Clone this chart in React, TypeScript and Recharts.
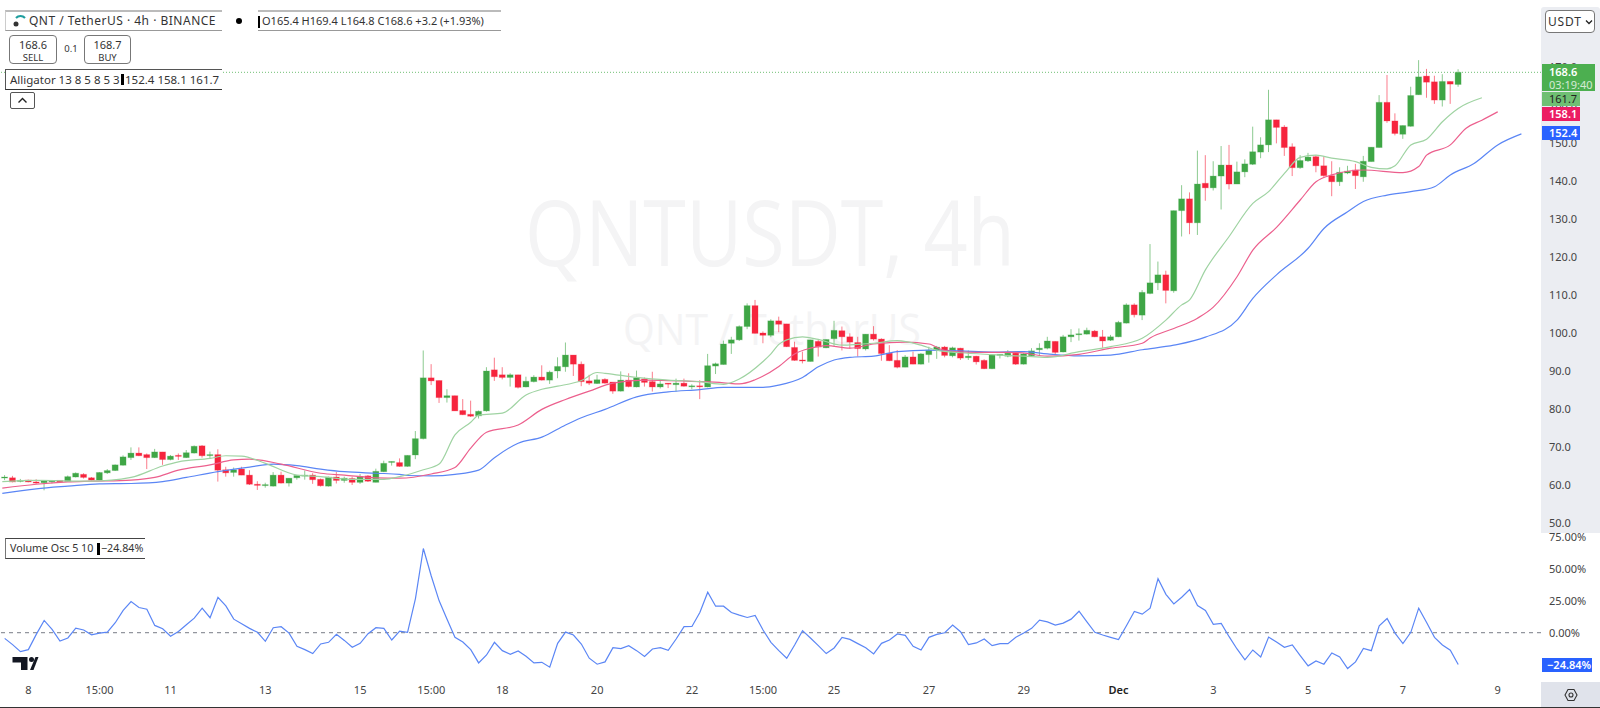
import { Bar, ComposedChart, Line, ReferenceLine, XAxis, YAxis } from 'recharts';

const FONT = '"Noto Sans", sans-serif';
const UP = '#3fa646';
const DOWN = '#f6243d';
const BODY_WIDTH = 6;

const opens = [
  62.0, 61.9, 61.0, 61.3, 60.8, 60.6, 61.0, 61.2, 60.9, 62.1,
  62.8, 61.9, 61.3, 63.2, 63.8, 65.2, 67.2, 68.4, 68.0, 67.2,
  68.7, 66.7, 67.8, 67.2, 68.4, 70.3, 67.9, 68.0, 64.0, 63.3,
  64.2, 62.6, 60.2, 59.9, 59.7, 62.6, 60.5, 61.9, 62.5, 62.6,
  61.5, 59.7, 62.1, 61.2, 61.7, 60.7, 62.4, 60.7, 63.5, 66.0,
  65.9, 64.9, 67.9, 72.2, 88.2, 87.5, 83.0, 83.5, 79.6, 78.6,
  78.2, 79.5, 90.3, 89.0, 88.3, 89.0, 85.8, 87.2, 88.4, 87.6,
  90.0, 91.1, 94.2, 91.8, 87.4, 86.7, 87.8, 87.1, 84.7, 87.6,
  85.8, 87.9, 87.2, 85.8, 86.8, 86.4, 86.8, 85.9, 86.1, 85.8,
  91.3, 91.7, 97.3, 98.2, 101.7, 107.2, 100.0, 99.4, 103.2, 102.4,
  96.2, 92.9, 92.5, 97.8, 96.1, 98.5, 100.6, 99.0, 97.5, 95.8,
  99.7, 98.4, 94.7, 92.8, 91.0, 93.7, 91.8, 94.3, 95.5, 96.3,
  94.0, 96.0, 93.5, 93.9, 92.8, 90.6, 94.2, 93.9, 94.7, 91.8,
  94.0, 95.6, 96.0, 97.8, 95.0, 99.0, 99.6, 99.7, 100.5, 99.0,
  98.1, 99.0, 102.6, 107.4, 104.7, 110.4, 113.2, 115.3, 111.1, 132.2,
  135.3, 129.0, 139.4, 138.2, 141.3, 144.2, 139.2, 142.4, 144.4, 147.6,
  149.5, 156.1, 154.2, 149.0, 143.5, 145.3, 146.4, 144.0, 141.4, 139.8,
  142.1, 142.9, 141.1, 145.1, 148.8, 160.7, 155.8, 152.3, 154.4, 162.7,
  167.6, 166.1, 161.3, 166.2, 165.4,
];

const highs = [
  62.6, 62.4, 61.6, 61.4, 61.5, 61.2, 61.3, 61.2, 62.5, 63.3,
  63.1, 62.1, 63.4, 64.2, 65.4, 67.8, 69.9, 69.9, 68.3, 69.5,
  68.7, 67.9, 68.3, 69.2, 70.4, 70.5, 68.8, 69.4, 64.8, 64.6,
  64.8, 63.9, 61.0, 60.6, 63.4, 63.5, 61.8, 62.6, 63.8, 63.1,
  61.7, 62.2, 63.4, 62.2, 62.2, 62.9, 62.6, 64.3, 66.4, 66.2,
  67.0, 67.8, 74.2, 95.4, 91.8, 87.5, 85.2, 83.5, 82.6, 82.2,
  79.6, 91.0, 93.5, 91.0, 89.4, 89.0, 88.5, 88.9, 91.5, 90.1,
  93.6, 97.5, 94.2, 92.5, 89.0, 89.0, 88.1, 87.1, 89.9, 89.4,
  90.1, 88.3, 89.8, 87.6, 86.8, 88.0, 88.0, 86.5, 87.6, 94.5,
  92.2, 98.0, 99.0, 102.0, 107.8, 108.7, 100.4, 103.6, 104.3, 102.4,
  97.7, 95.1, 98.2, 98.2, 98.3, 103.2, 101.7, 99.9, 99.0, 99.7,
  101.8, 98.6, 96.8, 95.5, 94.2, 95.1, 94.7, 96.4, 96.6, 96.6,
  96.4, 96.1, 95.4, 94.0, 93.1, 94.3, 94.4, 95.5, 94.8, 94.7,
  96.0, 97.3, 99.0, 97.8, 99.5, 101.0, 101.2, 101.4, 100.8, 100.8,
  99.5, 103.2, 107.8, 107.8, 111.3, 123.4, 118.8, 116.4, 132.2, 138.9,
  137.0, 148.0, 146.8, 145.2, 149.2, 149.5, 145.1, 145.7, 154.3, 151.5,
  164.0, 156.1, 154.7, 149.9, 146.8, 147.4, 146.8, 146.4, 145.2, 143.6,
  144.0, 144.5, 146.6, 148.9, 162.6, 167.9, 157.8, 154.6, 164.8, 171.8,
  169.5, 167.7, 168.1, 166.2, 169.4,
];

const lows = [
  61.3, 60.7, 60.7, 60.7, 60.3, 58.6, 60.4, 60.7, 60.8, 62.0,
  61.7, 61.2, 61.2, 62.9, 63.7, 65.1, 66.6, 67.6, 64.2, 67.1,
  65.3, 66.5, 66.6, 67.1, 68.3, 67.2, 67.0, 60.9, 62.2, 62.2,
  62.6, 60.0, 58.7, 59.3, 59.6, 60.4, 59.6, 61.4, 61.4, 60.3,
  59.6, 59.6, 60.4, 60.6, 60.0, 60.3, 60.8, 60.7, 63.4, 65.1,
  64.8, 64.8, 66.8, 72.0, 86.3, 81.6, 81.7, 79.5, 78.4, 77.9,
  77.5, 79.3, 87.4, 87.8, 85.9, 85.4, 85.7, 87.0, 87.5, 86.6,
  88.1, 89.8, 88.7, 86.0, 86.3, 86.6, 86.7, 84.0, 84.6, 85.7,
  85.7, 85.9, 84.6, 85.4, 85.5, 84.6, 85.9, 85.2, 82.6, 85.7,
  89.2, 91.7, 94.5, 97.9, 101.0, 99.9, 97.3, 98.9, 100.2, 96.3,
  92.7, 92.0, 92.5, 93.8, 96.0, 96.6, 95.4, 95.8, 93.8, 95.4,
  98.0, 92.7, 92.6, 90.7, 91.0, 91.8, 91.7, 92.2, 93.2, 93.6,
  93.6, 92.9, 92.9, 91.7, 90.5, 90.5, 93.3, 93.6, 91.6, 91.7,
  93.8, 94.2, 95.7, 94.2, 94.9, 97.6, 98.0, 99.6, 98.9, 96.1,
  97.9, 98.9, 102.5, 104.1, 103.4, 110.2, 111.3, 107.8, 110.6, 125.4,
  126.0, 125.8, 134.8, 137.5, 132.5, 137.8, 139.2, 141.0, 144.2, 146.0,
  147.6, 149.9, 146.6, 141.3, 143.2, 145.0, 142.3, 141.1, 136.0, 138.7,
  141.8, 137.9, 139.8, 145.1, 148.8, 155.3, 152.0, 151.1, 154.3, 162.7,
  161.9, 160.3, 159.6, 160.3, 164.8,
];

const closes = [
  62.1, 60.8, 61.2, 60.8, 60.5, 61.2, 61.1, 60.8, 62.2, 63.1,
  62.0, 61.3, 63.3, 63.8, 65.3, 67.4, 68.4, 67.7, 67.2, 68.7,
  66.7, 67.6, 67.6, 68.5, 70.2, 67.7, 68.0, 63.9, 63.2, 64.0,
  62.6, 60.2, 59.9, 60.1, 62.6, 60.5, 61.8, 62.5, 62.6, 61.4,
  59.8, 62.1, 61.2, 61.8, 60.7, 62.2, 61.0, 63.6, 65.7, 66.2,
  64.9, 67.8, 72.2, 88.2, 87.4, 83.0, 83.5, 79.5, 78.5, 78.1,
  79.4, 90.0, 88.5, 88.3, 89.0, 85.7, 87.3, 88.4, 87.6, 89.7,
  91.2, 94.2, 91.8, 87.2, 86.8, 87.7, 86.8, 84.7, 87.6, 85.9,
  88.2, 87.0, 85.8, 86.6, 86.6, 86.8, 86.0, 86.1, 85.9, 91.4,
  91.9, 97.1, 98.2, 101.7, 107.2, 99.9, 99.4, 103.2, 102.3, 96.4,
  92.8, 92.7, 98.2, 96.3, 98.3, 100.7, 99.0, 97.6, 95.9, 99.7,
  98.4, 94.6, 92.7, 91.0, 93.7, 91.8, 94.5, 95.5, 96.3, 94.1,
  96.1, 93.4, 93.9, 92.4, 90.6, 94.2, 94.4, 94.7, 91.8, 94.5,
  95.3, 96.0, 97.9, 94.9, 99.0, 99.5, 99.8, 100.7, 99.0, 97.9,
  99.0, 102.8, 107.4, 104.8, 110.7, 113.2, 115.3, 111.2, 132.2, 135.3,
  129.0, 139.2, 138.2, 141.3, 144.2, 139.2, 142.4, 144.5, 147.7, 149.5,
  156.1, 154.1, 148.8, 143.5, 145.4, 146.3, 144.0, 141.4, 139.8, 142.3,
  142.6, 141.4, 145.2, 148.9, 160.7, 155.8, 152.5, 154.6, 162.5, 167.4,
  166.0, 161.3, 166.2, 165.5, 168.6,
];

const jawBars = [-0.3, 4, 8, 12, 16, 20, 23, 27, 31, 34, 37, 40, 43, 47, 50, 51, 54, 57, 60, 62, 65, 68, 71, 73, 76, 80, 84, 88, 91, 96, 98, 101, 103, 105, 107, 110, 113, 117, 121, 125, 129, 132, 136, 140, 144, 148, 152, 156, 158, 161, 165, 167, 170, 172, 175, 178, 181, 183, 186, 189, 192];
const jawValues = [57.8, 59.0, 59.7, 60.3, 60.4, 60.9, 62.0, 63.5, 64.7, 65.5, 65.1, 64.2, 63.5, 63.1, 62.8, 62.5, 62.4, 62.8, 63.9, 67.2, 71.0, 72.6, 75.8, 77.7, 79.9, 83.2, 84.5, 85.1, 85.7, 85.7, 86.3, 88.3, 91.1, 92.9, 93.6, 93.9, 95.1, 95.5, 95.3, 95.0, 95.1, 94.5, 94.0, 94.2, 95.6, 96.8, 98.9, 103.4, 109.1, 115.3, 122.3, 127.5, 131.9, 134.6, 136.3, 137.2, 138.5, 141.6, 144.6, 149.5, 152.4];

const teethBars = [-0.3, 4, 8, 11, 16, 19, 22, 26, 29, 31, 35, 40, 43, 47, 50, 54, 57, 59, 61, 65, 68, 71, 74, 77, 81, 88, 91, 93, 95, 98, 100, 102, 104, 107, 110, 114, 117, 119, 123, 128, 132, 136, 140, 144, 145, 148, 151, 153, 156, 158, 161, 164, 166, 168, 172, 177, 179, 180, 183, 185, 187, 189];
const teethValues = [59.2, 60.2, 60.8, 61.0, 61.3, 62.0, 63.9, 65.3, 66.6, 66.8, 65.5, 63.1, 62.6, 61.9, 61.8, 62.9, 64.6, 69.7, 73.9, 75.8, 79.9, 82.5, 84.7, 86.8, 87.6, 87.2, 86.9, 86.6, 87.7, 91.2, 94.5, 96.0, 96.7, 96.0, 97.1, 97.6, 97.1, 95.4, 94.9, 94.9, 93.9, 94.4, 96.0, 97.3, 98.7, 101.2, 103.9, 106.8, 114.8, 121.8, 127.8, 135.0, 139.8, 141.6, 142.9, 142.2, 143.8, 146.8, 149.5, 153.9, 156.0, 158.2];

const lipsBars = [-0.3, 4, 11, 16, 20, 22, 26, 28, 30, 33, 37, 40, 44, 48, 50, 53, 55, 57, 59, 60, 63, 66, 68, 70, 73, 75, 76, 80, 84, 88, 91, 93, 96, 97, 98, 99, 101, 103, 106, 108, 110, 113, 116, 118, 121, 125, 129, 132, 136, 140, 144, 147, 149, 150, 152, 155, 158, 160, 162, 164, 166, 168, 171, 173, 175, 176, 178, 180, 182, 184, 187];
const lipsValues = [60.9, 61.2, 61.0, 62.0, 65.0, 66.1, 67.0, 67.7, 67.6, 65.7, 62.6, 62.2, 61.5, 61.5, 62.2, 64.0, 65.5, 73.2, 76.5, 78.4, 78.9, 83.7, 85.2, 86.0, 87.5, 89.6, 89.4, 88.3, 87.6, 87.2, 86.5, 87.9, 92.5, 94.5, 97.0, 98.2, 99.0, 98.3, 96.8, 97.0, 97.3, 98.0, 96.8, 95.5, 94.8, 94.3, 93.9, 93.6, 95.1, 96.4, 98.6, 103.4, 107.4, 108.7, 116.6, 125.4, 134.1, 137.2, 142.0, 146.2, 146.8, 146.0, 145.1, 143.6, 143.2, 144.0, 149.5, 151.0, 155.6, 159.1, 161.9];

const oscValues = [
  -4.4, -9.3, -14.8, -13.2, -1.3, 9.6, 2.6, -6.5, -4.1, 3.6,
  2.1, -1.6, -0.3, 0.5, 7.8, 17.4, 24.3, 19.7, 18.4, 5.7,
  3.1, -2.8, 1.0, 6.2, 11.4, 19.2, 11.7, 27.7, 21.0, 10.6,
  7.0, 3.4, 0.3, -6.7, 3.9, 4.7, -0.3, -10.6, -13.2, -16.3,
  -8.8, -7.5, -1.3, -6.0, -11.4, -8.3, -0.8, 3.9, 3.4, -5.7,
  1.3, 0.3, 26.7, 65.8, 44.3, 24.9, 10.6, -3.6, -7.3, -13.2,
  -23.6, -17.4, -7.5, -14.0, -16.8, -14.2, -18.4, -23.6, -23.1, -26.9,
  -8.3, 0.5, -1.8, -8.8, -19.9, -24.6, -22.8, -11.7, -12.4, -10.1,
  -14.0, -18.6, -12.7, -11.7, -13.7, -4.9, 4.7, 4.9, 15.8, 31.6,
  20.7, 20.7, 15.8, 13.7, 11.9, 13.5, 2.1, -7.5, -14.0, -19.9,
  -9.6, 1.6, -4.1, -10.1, -16.3, -11.9, -3.6, -5.2, -8.5, -11.7,
  -16.6, -8.3, -5.7, -1.0, -2.1, -10.6, -13.5, -3.6, -1.3, 0,
  6.0, 0.8, -9.3, -8.0, -4.9, -10.1, -8.5, -8.5, -3.6, -0.3,
  3.4, 9.8, 8.5, 6.0, 7.5, 10.6, 16.8, 8.5, 0.3, -1.8,
  -3.6, -5.4, 5.4, 16.6, 14.5, 19.2, 42.2, 30.0, 22.5, 27.7,
  33.7, 21.2, 17.4, 6.5, 7.3, -3.1, -12.7, -21.2, -13.5, -18.9,
  -3.4, -7.3, -11.4, -9.6, -17.9, -25.9, -22.0, -24.6, -15.8, -18.9,
  -28.0, -22.8, -12.2, -14.0, 5.4, 11.1, -0.3, -8.5, 0.3, 19.2,
  8.0, -3.6, -9.6, -13.7, -24.84,
];

const priceTicks = [50, 60, 70, 80, 90, 100, 110, 120, 130, 140, 150, 160, 170];
const oscTicks = [0, 25, 50, 75];
const timeBars = [3, 12, 21, 33, 45, 54, 63, 75, 87, 96, 105, 117, 129, 141, 153, 165, 177, 189];
const timeLabels = ['8', '15:00', '11', '13', '15', '15:00', '18', '20', '22', '15:00', '25', '27', '29', 'Dec', '3', '5', '7', '9'];

const BAR_DOMAIN = [-0.591, 194.48];

const candles = opens.map((open, i) => ({
  bar: i,
  open,
  high: highs[i],
  low: lows[i],
  close: closes[i],
  range: [lows[i], highs[i]],
}));
const toPoints = (bars: number[], values: number[]) => bars.map((bar, i) => ({ bar, value: values[i] }));
const oscPoints = oscValues.map((value, i) => ({ bar: i, value }));

// body width is fixed here, the bar's own width shrinks with the gaps on the number axis
const Candle = ({ x, y, width, height, payload }: any) => {
  const { open, close, high, low } = payload;
  const color = close >= open ? UP : DOWN;
  const perUnit = Math.abs(height) / Math.max(high - low, 0.01);
  const top = y + (high - Math.max(open, close)) * perUnit;
  const bodyHeight = Math.max(Math.abs(open - close) * perUnit, 1);
  const mid = x + width / 2;
  return (
    <g>
      <line x1={mid} x2={mid} y1={y} y2={y + Math.abs(height)} stroke={color} strokeOpacity={0.6} />
      <rect x={mid - BODY_WIDTH / 2} y={top} width={BODY_WIDTH} height={bodyHeight} fill={color} stroke={color} strokeOpacity={0.25} />
    </g>
  );
};

const TimeTick = ({ x, y, payload }: any) => {
  const label = timeLabels[timeBars.indexOf(payload.value)];
  return (
    <text x={x} y={y} dy={4} textAnchor="middle" fontFamily={FONT} fontSize={11} fontWeight={label === 'Dec' ? 600 : 400} fill={label === 'Dec' ? '#222' : '#444'}>
      {label}
    </text>
  );
};

const box = (left: number, top: number, width: number, height: number, extra: any = {}) => ({
  position: 'absolute' as const,
  left,
  top,
  width,
  height,
  boxSizing: 'border-box' as const,
  fontFamily: FONT,
  fontSize: 11,
  color: '#333',
  lineHeight: `${height}px`,
  whiteSpace: 'nowrap' as const,
  ...extra,
});

const App = () => {
  return (
    <div style={{ position: 'absolute', left: 0, top: 0, width: 1600, height: 708, overflow: 'hidden', background: '#fff' }}>
      {/* watermark */}
      <svg width={1600} height={708} style={{ position: 'absolute', left: 0, top: 0 }}>
        <text x={525} y={266} fontFamily={'"Open Sans", sans-serif'} fontSize={92} fill="#f4f4f5" textLength={490} lengthAdjust="spacingAndGlyphs">QNTUSDT, 4h</text>
        <text x={623} y={345} fontFamily={'"Open Sans", sans-serif'} fontSize={44} fill="#f4f4f5" textLength={298} lengthAdjust="spacingAndGlyphs">QNT / TetherUS</text>
      </svg>

      {/* oscillator pane */}
      <div style={{ position: 'absolute', left: 0, top: 533 }}>
        <ComposedChart width={1600} height={174} data={oscPoints} margin={{ top: 0, right: 0, bottom: 0, left: 0 }}>
          <XAxis
            dataKey="bar"
            type="number"
            domain={BAR_DOMAIN}
            allowDataOverflow
            ticks={timeBars}
            interval={0}
            height={25}
            tickLine={false}
            axisLine={false}
            tickSize={0}
            tickMargin={8}
            tick={<TimeTick />}
          />
          <YAxis
            orientation="right"
            width={59}
            type="number"
            domain={[-38.5, 77.9]}
            allowDataOverflow
            ticks={oscTicks}
            interval={0}
            tickLine={false}
            axisLine={false}
            tickSize={0}
            tickMargin={8}
            tick={{ fontFamily: FONT, fontSize: 11, fill: '#444' }}
            tickFormatter={(v: number) => `${v.toFixed(2)}%`}
          />
          <ReferenceLine y={0} stroke="#787b86" strokeDasharray="4 4" />
          <Line dataKey="value" type="linear" stroke="#5b86f5" strokeWidth={1.2} dot={false} activeDot={false} isAnimationActive={false} />
        </ComposedChart>
      </div>

      {/* price scale background, sits over the top of the 75% label */}
      <div style={{ position: 'absolute', left: 1541, top: 7, width: 59, height: 526, background: '#ebedf2', borderTopLeftRadius: 3, borderTopRightRadius: 3 }} />
      <div style={{ position: 'absolute', left: 1541, top: 682, width: 59, height: 25, background: '#e0e3eb' }} />
      <div style={{ position: 'absolute', left: 0, top: 707, width: 1600, height: 1, background: '#333' }} />

      {/* price pane */}
      <div style={{ position: 'absolute', left: 0, top: 0 }}>
        <ComposedChart width={1600} height={533} data={candles} margin={{ top: 0, right: 0, bottom: 0, left: 0 }}>
          <XAxis dataKey="bar" type="number" domain={BAR_DOMAIN} allowDataOverflow hide />
          <YAxis
            orientation="right"
            width={59}
            type="number"
            domain={[47.37, 187.63]}
            allowDataOverflow
            ticks={priceTicks}
            interval={0}
            tickLine={false}
            axisLine={false}
            tickSize={0}
            tickMargin={8}
            tick={{ fontFamily: FONT, fontSize: 11, fill: '#444' }}
            tickFormatter={(v: number) => v.toFixed(1)}
          />
          <ReferenceLine y={168.6} stroke="#4caf50" strokeDasharray="1 2" strokeOpacity={0.8} />
          <Bar dataKey="range" barSize={6} shape={<Candle />} isAnimationActive={false} />
          <Line data={toPoints(jawBars, jawValues)} dataKey="value" type="monotone" stroke="#5b86f5" strokeWidth={1.2} dot={false} activeDot={false} isAnimationActive={false} />
          <Line data={toPoints(teethBars, teethValues)} dataKey="value" type="monotone" stroke="#ec5f8d" strokeWidth={1.2} dot={false} activeDot={false} isAnimationActive={false} />
          <Line data={toPoints(lipsBars, lipsValues)} dataKey="value" type="monotone" stroke="#9fd3a2" strokeWidth={1.2} dot={false} activeDot={false} isAnimationActive={false} />
        </ComposedChart>
      </div>

      {/* legend */}
      <div style={box(5, 10, 217, 21, { borderTop: '2px solid #bbb', borderBottom: '1px solid #999', borderLeft: '1px solid #ccc', paddingLeft: 23, fontSize: 12, letterSpacing: 0.5, lineHeight: '18px' })}>QNT / TetherUS · 4h · BINANCE</div>
      <svg width={18} height={16} style={{ position: 'absolute', left: 10, top: 13 }}>
        <path d="M6 5 A6 6 0 0 1 15 5" fill="none" stroke="#1f9e9e" strokeWidth={2} />
        <circle cx={6} cy={11} r={2.5} fill="#333" />
      </svg>
      <div style={{ position: 'absolute', left: 236, top: 18, width: 6, height: 6, borderRadius: 3, background: '#000' }} />
      <div style={box(258, 10, 243, 21, { borderTop: '2px solid #bbb', borderBottom: '1px solid #999', paddingLeft: 4, lineHeight: '18px' })}>O165.4 H169.4 L164.8 C168.6 +3.2 (+1.93%)</div>
      <div style={{ position: 'absolute', left: 258, top: 16, width: 2, height: 12, background: '#000' }} />

      <div style={box(9, 35, 48, 29, { border: '1px solid #777', borderRadius: 4, background: '#fff', textAlign: 'center', lineHeight: '13px', paddingTop: 2 })}>
        <div>168.6</div>
        <div style={{ fontSize: 9.5 }}>SELL</div>
      </div>
      <div style={box(63, 42, 16, 14, { fontSize: 9.5, textAlign: 'center' })}>0.1</div>
      <div style={box(84, 35, 47, 29, { border: '1px solid #777', borderRadius: 4, background: '#fff', textAlign: 'center', lineHeight: '13px', paddingTop: 2 })}>
        <div>168.7</div>
        <div style={{ fontSize: 9.5 }}>BUY</div>
      </div>

      <div style={box(5, 69, 217, 21, { borderTop: '1px solid #555', borderBottom: '1px solid #333', borderLeft: '1px solid #555', background: '#fff', paddingLeft: 4, fontSize: 11.5, lineHeight: '19px' })}>Alligator 13 8 5 8 5 3</div>
      <div style={{ position: 'absolute', left: 121, top: 74, width: 3, height: 11, background: '#000' }} />
      <div style={box(125, 70, 96, 19, { fontSize: 11.5 })}>152.4 158.1 161.7</div>
      <div style={box(10, 92, 25, 17, { border: '1px solid #555', borderRadius: 2, background: '#fff' })}>
        <svg width={23} height={15} style={{ display: 'block' }}>
          <path d="M7.5 9.5 L11.5 5.5 L15.5 9.5" fill="none" stroke="#222" strokeWidth={1.4} />
        </svg>
      </div>

      <div style={box(5, 538, 140, 21, { borderTop: '1px solid #444', borderBottom: '1px solid #444', borderLeft: '1px solid #777', paddingLeft: 4, lineHeight: '19px', fontSize: 10.7 })}>Volume Osc 5 10</div>
      <div style={{ position: 'absolute', left: 97, top: 543, width: 3, height: 12, background: '#000' }} />
      <div style={box(101, 539, 43, 19, { fontSize: 10.7 })}>−24.84%</div>

      {/* logo */}
      <svg width={40} height={20} style={{ position: 'absolute', left: 10, top: 654 }}>
        <path d="M2.5 3h15v13h-6.5v-7.5H2.5z" fill="#131722" />
        <circle cx={21.5} cy={5.5} r={2.5} fill="#131722" />
        <path d="M20 16L25.5 3H28.5L23.5 16z" fill="#131722" />
      </svg>

      {/* scale badges */}
      <div style={box(1545, 10, 50, 23, { border: '1px solid #777', borderRadius: 4, background: '#fff', paddingLeft: 2, fontSize: 12, letterSpacing: 0.8, lineHeight: '21px' })}>USDT</div>
      <svg width={8} height={6} style={{ position: 'absolute', left: 1585, top: 19 }}>
        <path d="M1 1.5 L4 4.5 L7 1.5" fill="none" stroke="#222" strokeWidth={1.3} />
      </svg>
      <div style={box(1542, 64, 53, 27, { background: '#4caf50', color: '#fff', paddingLeft: 7, lineHeight: '13px', paddingTop: 1 })}>
        <div style={{ fontWeight: 600 }}>168.6</div>
        <div style={{ opacity: 0.75 }}>03:19:40</div>
      </div>
      <div style={box(1542, 92, 38, 14, { background: '#6fbf73', color: '#222', paddingLeft: 7 })}>161.7</div>
      <div style={box(1542, 107, 38, 14, { background: '#ec1c63', color: '#fff', paddingLeft: 7, fontWeight: 600 })}>158.1</div>
      <div style={box(1542, 126, 38, 14, { background: '#2962ff', color: '#fff', paddingLeft: 7, fontWeight: 600 })}>152.4</div>
      <div style={box(1542, 658, 50, 14, { background: '#2962ff', color: '#fff', paddingLeft: 5, fontWeight: 600 })}>−24.84%</div>

      <svg width={20} height={20} style={{ position: 'absolute', left: 1561, top: 685 }}>
        <path d="M4 10 L7 4.5 H13 L16 10 L13 15.5 H7 Z" fill="none" stroke="#333" strokeWidth={1.1} />
        <circle cx={10} cy={10} r={2} fill="none" stroke="#333" strokeWidth={1.1} />
      </svg>
    </div>
  );
};

export default App;
